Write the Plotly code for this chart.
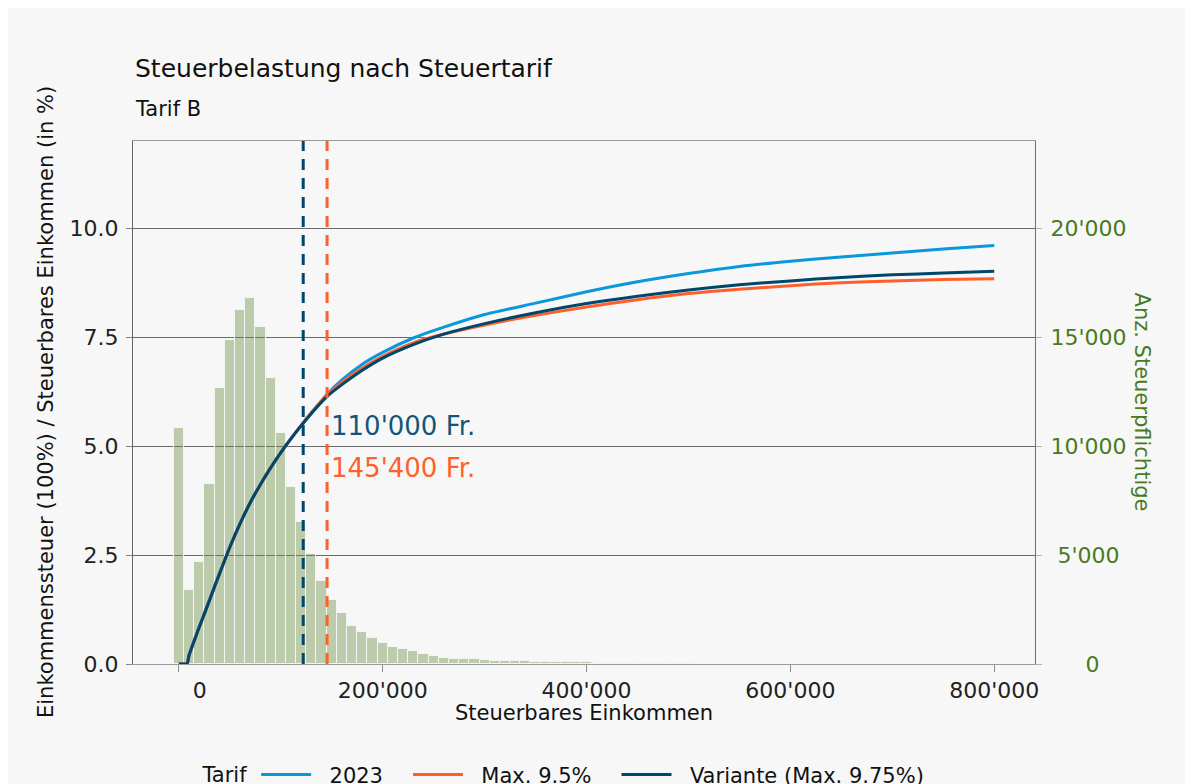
import plotly.graph_objects as go

# Histogramm: Anzahl Steuerpflichtige je 10'000er-Klasse (Klassenmitte)
bin_mitte = [i * 10000 for i in range(61)]
anzahl = [10840, 3394, 4665, 8271, 12646, 14862, 16238, 16803, 15472, 13105,
          10582, 8133, 6500, 5046, 3822, 2950, 2340, 1758, 1482, 1193,
          963, 765, 688, 581, 459, 367, 291, 245, 245, 214,
          168, 138, 122, 122, 122, 76, 76, 76, 76, 76,
          92, 46, 40, 40, 38, 36, 34, 30, 28, 26,
          24, 20, 18, 16, 15, 14, 13, 12, 12, 11, 10]

# Steuerbelastung in % des steuerbaren Einkommens
einkommen = [0, 5000, 8000, 10000, 15000, 20000, 25000, 30000, 40000, 50000,
             60000, 70000, 80000, 90000, 100000, 110000, 120000, 130000, 145000,
             160000, 180000, 200000, 230000, 260000, 300000, 350000, 400000,
             450000, 500000, 550000, 600000, 650000, 700000, 750000, 800000]
tarif_2023 = [0, 0, 0, 0.2, 0.53, 0.85, 1.15, 1.46, 2.08, 2.68,
              3.22, 3.70, 4.12, 4.50, 4.85, 5.17, 5.47, 5.76, 6.18,
              6.52, 6.88, 7.15, 7.48, 7.73, 8.02, 8.28, 8.54,
              8.77, 8.96, 9.12, 9.24, 9.34, 9.43, 9.52, 9.60]
tarif_max95 = [0, 0, 0, 0.2, 0.53, 0.85, 1.15, 1.46, 2.08, 2.68,
               3.22, 3.70, 4.12, 4.50, 4.85, 5.17, 5.48, 5.77, 6.16,
               6.46, 6.79, 7.06, 7.37, 7.57, 7.78, 8.00, 8.19,
               8.36, 8.50, 8.60, 8.68, 8.75, 8.79, 8.82, 8.84]
tarif_variante = [0, 0, 0, 0.2, 0.53, 0.85, 1.15, 1.46, 2.08, 2.68,
                  3.22, 3.70, 4.12, 4.50, 4.85, 5.17, 5.47, 5.75, 6.13,
                  6.41, 6.74, 7.02, 7.33, 7.57, 7.81, 8.06, 8.27,
                  8.44, 8.58, 8.70, 8.79, 8.87, 8.93, 8.97, 9.01]

grenze_variante = 122000
grenze_max95 = 145400

x_ticks = [0, 200000, 400000, 600000, 800000]
x_ticktext = ["\u2007\u2007\u20070", "200'000", "400'000", "600'000", "800'000"]
y_ticks = [0, 2.5, 5, 7.5, 10]
y2_ticks = [0, 5000, 10000, 15000, 20000]
y2_ticktext = ["\u2007\u2007\u20080", "\u20085'000", "10'000", "15'000", "20'000"]

farben = {
    '2023': '#0a98dd',
    'max95': '#ff5f2b',
    'variante': '#00476c',
    'bars': 'rgba(108,142,70,0.42)',
    'gruen': '#4a7a1e',
    'bg': '#f7f7f7',
}
FONT = "DejaVu Sans"
# Abstand in der Legende (Text weg von der Linie, Luft zum naechsten Eintrag)
vor, nach = "\u2007", "\u2007\u00a0"

fig = go.Figure()

fig.add_trace(go.Bar(
    x=bin_mitte, y=anzahl, width=10000,
    marker=dict(color=farben['bars'], line=dict(color='#f3f5f0', width=1)),
    yaxis='y', showlegend=False, hoverinfo='skip'
))

for name, werte, col in [('2023', tarif_2023, farben['2023']),
                         ('Max. 9.5%', tarif_max95, farben['max95']),
                         ('Variante (Max. 9.75%)', tarif_variante, farben['variante'])]:
    fig.add_trace(go.Scatter(
        x=einkommen, y=werte, mode='lines', name=vor + name + nach,
        line=dict(color=col, width=3, shape='spline', smoothing=0.6), yaxis='y2'
    ))

# gestrichelte Grenzen
for xv, col in [(grenze_variante, farben['variante']), (grenze_max95, farben['max95'])]:
    fig.add_shape(type='line', xref='x', yref='paper', x0=xv, x1=xv, y0=0, y1=1,
                  line=dict(color=col, width=3, dash='11px,8px'), layer='above')

annos = [
    dict(text="Steuerbelastung nach Steuertarif", x=0, y=1.1377, xanchor='left',
         yanchor='middle', font=dict(size=25, color='#111111')),
    dict(text="Tarif B", x=0, y=1.0612, xanchor='left', yanchor='middle',
         font=dict(size=21, color='#111111')),
    dict(text="Einkommenssteuer (100%) / Steuerbares Einkommen (in %)", x=-0.097, y=0.5,
         textangle=-90, xanchor='center', yanchor='middle',
         font=dict(size=21, color='#111111')),
    dict(text="Anz. Steuerpflichtige", x=1.1197, y=0.5, textangle=90,
         xanchor='center', yanchor='middle', font=dict(size=21, color=farben['gruen'])),
    dict(text="Steuerbares Einkommen", x=0.5, y=-0.0937, xanchor='center',
         yanchor='middle', font=dict(size=21, color='#111111')),
]
for a in annos:
    fig.add_annotation(xref='paper', yref='paper', showarrow=False, **a)

fig.add_annotation(x=grenze_max95, y=5.46, xref='x', yref='y2', text="110'000 Fr.",
                   showarrow=False, xanchor='left', yanchor='middle', xshift=2,
                   font=dict(size=26, color='#13557a'))
fig.add_annotation(x=grenze_max95, y=4.49, xref='x', yref='y2', text="145'400 Fr.",
                   showarrow=False, xanchor='left', yanchor='middle', xshift=2,
                   font=dict(size=26, color=farben['max95']))

fig.update_layout(
    width=1177, height=800,
    margin=dict(l=125, r=150, t=133, b=144, autoexpand=False),
    paper_bgcolor=farben['bg'], plot_bgcolor=farben['bg'],
    font=dict(family=FONT, size=22, color='#222222'),
    bargap=0,
    xaxis=dict(range=[-45000, 840000], tickvals=x_ticks, ticktext=x_ticktext,
               showgrid=False, zeroline=False, showline=True, linecolor='#9a9a9a',
               linewidth=1, mirror=True, ticks='outside', ticklen=7, tickcolor='#8a8a8a',
               tickfont=dict(size=22, color='#222222')),
    yaxis=dict(range=[0, 24000], side='right', tickvals=y2_ticks, ticktext=y2_ticktext,
               showgrid=False, zeroline=False, showline=True, linecolor='#5f8040',
               linewidth=1, ticks='outside', ticklen=6, tickcolor='#a9bd95',
               ticklabelstandoff=4, tickfont=dict(size=22, color=farben['gruen'])),
    yaxis2=dict(range=[0, 12], overlaying='y', side='left', tickvals=y_ticks,
                tickformat='.1f', showgrid=True, gridcolor='#6a6a6a', gridwidth=1,
                zeroline=False, showline=True, linecolor='#666666', linewidth=1,
                ticks='outside', ticklen=6, tickcolor='#888888', ticklabelstandoff=3,
                tickfont=dict(size=22, color='#222222')),
    legend=dict(orientation='h', x=0.49, xanchor='center', y=-0.212, yanchor='middle',
                title=dict(text='Tarif', font=dict(size=21, color='#111111')),
                font=dict(size=21, color='#111111'), bgcolor='rgba(0,0,0,0)',
                itemwidth=50),
)

fig.write_html("out.html")
